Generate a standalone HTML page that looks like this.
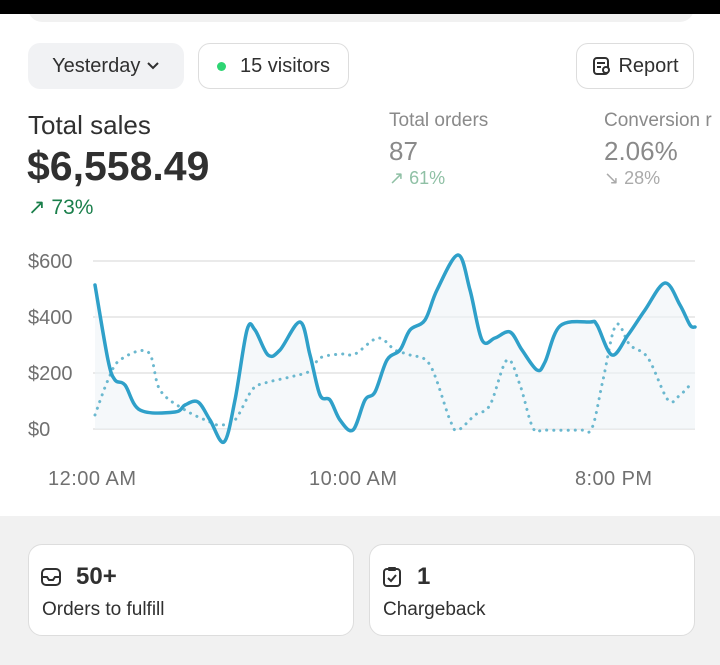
<!DOCTYPE html>
<html><head><style>
body{margin:0;width:720px;height:665px;overflow:hidden;background:#fff;font-family:"Liberation Sans",sans-serif;position:relative}
.a{position:absolute}
.btn{position:absolute;top:43px;height:46px;border-radius:12px;box-sizing:border-box;font-size:20px;color:#303030;display:flex;align-items:center;justify-content:center}
.card{position:absolute;top:544px;height:92px;width:326px;background:#fff;border:1px solid #ddd;border-radius:14px;box-sizing:border-box}
</style></head><body>
<div class="a" style="left:0;top:0;width:720px;height:14px;background:#000"></div>
<div class="a" style="left:28px;top:0;width:666px;height:22px;background:#f1f1f1;border-radius:0 0 14px 14px;z-index:-1"></div>
<div class="btn" style="left:28px;width:156px;background:#f1f2f4">Yesterday&nbsp;<svg width="14" height="10"><path d="M2 2l5 5 5-5" stroke="#303030" stroke-width="2" fill="none"/></svg></div>
<div class="btn" style="left:198px;width:151px;border:1px solid #ddd"><span style="display:inline-block;width:9px;height:9px;border-radius:50%;background:#2ed573;margin-right:14px"></span>15 visitors</div>
<div class="btn" style="left:576px;width:118px;border:1px solid #ddd"><svg width="22" height="22" style="margin-right:5px"><rect x="3" y="3" width="14" height="16" rx="3" stroke="#303030" stroke-width="2" fill="none"/><path d="M6 8h8M6 12h4" stroke="#303030" stroke-width="2"/><circle cx="15" cy="15" r="3" stroke="#303030" stroke-width="2" fill="#fff"/></svg>Report</div>
<div class="a" style="left:28px;top:110px;font-size:26px;color:#303030">Total sales</div>
<div class="a" style="left:27px;top:143px;font-size:41px;font-weight:bold;color:#303030">$6,558.49</div>
<div class="a" style="left:28px;top:195px;font-size:21px;color:#1a7f4b">↗ 73%</div>
<div class="a" style="left:389px;top:110px;font-size:19px;color:#8a8a8a">Total orders</div>
<div class="a" style="left:389px;top:136px;font-size:26px;color:#8a8a8a">87</div>
<div class="a" style="left:389px;top:168px;font-size:18px;color:#8fc0a5">↗ 61%</div>
<div class="a" style="left:604px;top:110px;font-size:19px;color:#8a8a8a;white-space:nowrap">Conversion r</div>
<div class="a" style="left:604px;top:136px;font-size:26px;color:#8a8a8a">2.06%</div>
<div class="a" style="left:604px;top:168px;font-size:18px;color:#aaa">↘ 28%</div>
<svg class="a" style="left:0;top:240px" width="720" height="260" id="ch">
<g stroke="#e3e3e3" stroke-width="1.5"><line x1="93" x2="695" y1="21" y2="21"/><line x1="93" x2="695" y1="77" y2="77"/><line x1="93" x2="695" y1="133" y2="133"/><line x1="93" x2="695" y1="189" y2="189"/></g>
<g font-size="20" fill="#707070" font-family="Liberation Sans"><text x="28" y="28">$600</text><text x="28" y="84">$400</text><text x="28" y="140">$200</text><text x="28" y="196">$0</text>
<text x="48" y="245" textLength="88">12:00 AM</text><text x="309" y="245" textLength="88">10:00 AM</text><text x="575" y="245" textLength="77">8:00 PM</text></g>
<path id="fill" fill="#eef3f7" opacity="0.6"/>
<path id="dot" fill="none" stroke="#6bb8cf" stroke-width="3" stroke-dasharray="0.1 7" stroke-linecap="round"/>
<path id="sol" fill="none" stroke="#2fa0c9" stroke-width="3.5" stroke-linecap="round"/>
</svg>
<div class="a" style="left:0;top:516px;width:720px;height:149px;background:#f1f1f1"></div>
<div class="card" style="left:28px"><svg class="a" style="left:11px;top:21px" width="24" height="24"><rect x="2" y="3" width="18" height="16" rx="4" stroke="#303030" stroke-width="2" fill="none"/><path d="M2 11h5l2 3h4l2-3h5" stroke="#303030" stroke-width="2" fill="none"/></svg><div class="a" style="left:47px;top:18px;font-size:24px;font-weight:bold;color:#303030">50+</div><div class="a" style="left:13px;top:54px;font-size:19px;color:#303030">Orders to fulfill</div></div>
<div class="card" style="left:369px"><svg class="a" style="left:11px;top:20px" width="24" height="24"><rect x="3" y="4" width="16" height="17" rx="3" stroke="#303030" stroke-width="2" fill="none"/><rect x="7" y="2" width="8" height="4" rx="1" fill="#303030"/><path d="M7 13l3 3 5-6" stroke="#303030" stroke-width="2" fill="none"/></svg><div class="a" style="left:47px;top:18px;font-size:24px;font-weight:bold;color:#303030">1</div><div class="a" style="left:13px;top:54px;font-size:19px;color:#303030">Chargeback</div></div>
<script>
var S=[[95,285],[108,360],[115,380],[125,385],[140,410],[175,412],[185,405],[198,402],[210,420],[224,442],[235,400],[247,330],[255,330],[268,355],[280,350],[300,322],[310,355],[320,395],[330,400],[340,420],[353,430],[365,400],[375,392],[387,360],[400,350],[410,330],[425,320],[437,290],[458,255],[470,290],[482,340],[495,338],[510,332],[522,350],[537,370],[545,362],[560,326],[590,322],[597,325],[612,355],[628,335],[645,310],[665,283],[680,305],[690,325],[695,327]];
var D=[[95,415],[108,380],[120,360],[148,352],[160,390],[185,410],[210,422],[220,425],[235,420],[252,390],[265,383],[290,377],[310,371],[320,358],[340,354],[355,354],[378,338],[395,350],[410,355],[430,365],[450,420],[458,430],[475,415],[490,405],[507,360],[520,385],[533,428],[545,430],[580,430],[592,428],[603,380],[616,325],[630,345],[648,358],[668,400],[680,395],[690,385]];
function cr(p){p=p.map(function(q){return [q[0],q[1]-240]});var d="M"+p[0];for(var i=0;i<p.length-1;i++){var a=p[i-1]||p[i],b=p[i],c=p[i+1],e=p[i+2]||c;d+=" C"+(b[0]+(c[0]-a[0])/6)+","+(b[1]+(c[1]-a[1])/6)+" "+(c[0]-(e[0]-b[0])/6)+","+(c[1]-(e[1]-b[1])/6)+" "+c;}return d;}
var s=cr(S);document.getElementById('sol').setAttribute('d',s);
document.getElementById('fill').setAttribute('d',s+" L695,189 L95,189Z");
document.getElementById('dot').setAttribute('d',cr(D));
</script>
</body></html>
